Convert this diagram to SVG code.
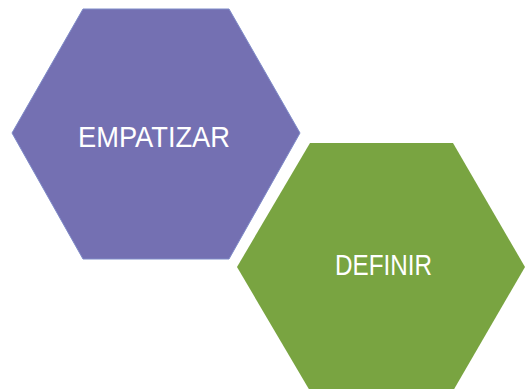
<svg xmlns="http://www.w3.org/2000/svg" width="525" height="389" viewBox="0 0 525 389">
<style>
.lbl{font-family:"Liberation Sans",Arial,sans-serif;font-size:29px;fill:#ffffff;text-anchor:middle}
</style>
<rect width="525" height="389" fill="#ffffff"/>
<g id="empatizar">
<polygon points="12,133 83,9 229,9 300,133 229,259 83,259" fill="#7470B2" stroke="#7F8BC8" stroke-width="1"/>
<text class="lbl" x="154" y="147" textLength="152" lengthAdjust="spacingAndGlyphs">EMPATIZAR</text>
</g>
<g id="definir">
<polygon points="237,267 310,143 453,143 525,267 453,391 310,391" fill="#79A441"/>
<text class="lbl" x="383.5" y="275" textLength="97" lengthAdjust="spacingAndGlyphs">DEFINIR</text>
</g>
<g id="connectors"/>
</svg>
